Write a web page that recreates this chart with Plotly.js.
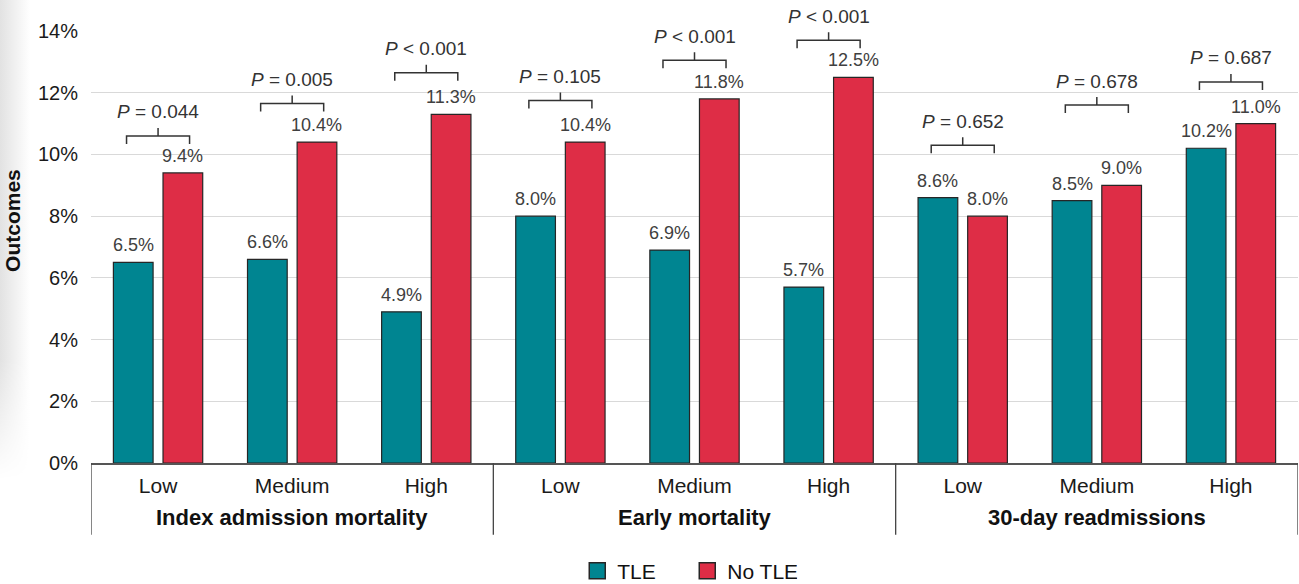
<!DOCTYPE html>
<html>
<head>
<meta charset="utf-8">
<script src="https://cdn.plot.ly/plotly-3.0.1.min.js"></script>
<style>
  html, body { margin: 0; padding: 0; background: #fff; }
  body { width: 1299px; height: 584px; overflow: hidden; position: relative; }
  #edge {
    position: absolute; left: 0; top: 0; width: 30px; height: 480px;
    background: linear-gradient(to right, #e2e2e2, #ffffff);
    -webkit-mask-image: linear-gradient(to bottom, #000 75%, transparent);
    mask-image: linear-gradient(to bottom, #000 75%, transparent);
  }
  #chart { position: absolute; left: 0; top: 0; width: 1299px; height: 584px; }
</style>
</head>
<body>
<div id="edge"></div>
<div id="chart"></div>
<script>
// Outcome groups and risk levels
const panels = ['Index admission mortality', 'Early mortality', '30-day readmissions'];
const levels = ['Low', 'Medium', 'High'];

// Outcome rates (%) per panel x level
const tleRates   = [6.5, 6.6, 4.9,   8.0, 6.9, 5.7,   8.6, 8.5, 10.2];
const noTleRates = [9.4, 10.4, 11.3, 10.4, 11.8, 12.5, 8.0, 9.0, 11.0];

// Significance of TLE vs no TLE within each level
const pTexts = ['= 0.044', '= 0.005', '< 0.001',
                '= 0.105', '< 0.001', '< 0.001',
                '= 0.652', '= 0.678', '= 0.687'];

// Y axis ticks (%)
const yTicks = [0, 2, 4, 6, 8, 10, 12, 14];

// ---- layout helpers ----
const FONT = 'Liberation Sans, Arial, Helvetica, sans-serif';
const W = 1299, H = 584;
const M = { l: 91, r: 1, t: 31, b: 121 };
const BARGAP = 0.26, GROUPGAP = 0.2;

const nPerPanel = levels.length;
const xIdx = tleRates.map((_, i) => i);
const tickText = xIdx.map(i => levels[i % nPerPanel]);

// pixel offset of each series' bar centre from its category centre
const catPx = (W - M.l - M.r) / xIdx.length;
const slotPx = (1 - BARGAP) * catPx / 2;
const seriesShift = [-slotPx / 2, slotPx / 2];

// height (in % units) of each significance bracket
const bracketLevels = [10.6, 11.65, 12.65, 11.75, 13.05, 13.7, 10.3, 11.6, 12.35];
const bracketHalf = 0.235;  // half width, category units
const bracketTick = 0.26;   // tick length, % units

const TEAL = '#008591', RED = '#DE2D46', EDGE = '#262626';
const fmt = v => v.toFixed(1) + '%';

const series = [
  { name: 'TLE', values: tleRates, color: TEAL },
  { name: 'No TLE', values: noTleRates, color: RED }
];

const traces = [];
series.forEach(s => {
  traces.push({
    type: 'bar', name: s.name, x: xIdx, y: s.values,
    marker: { color: s.color, line: { color: EDGE, width: 1.2 } },
    showlegend: false, hoverinfo: 'name+y'
  });
});
// legend entries with larger square keys
series.forEach(s => {
  traces.push({
    type: 'scatter', mode: 'markers', name: s.name,
    x: [null], y: [null],
    marker: { symbol: 'square', size: 18, color: s.color, line: { color: EDGE, width: 1.5 } },
    showlegend: true, hoverinfo: 'skip'
  });
});

const shapes = [];
const annotations = [];

// value labels above each bar
series.forEach((s, k) => {
  s.values.forEach((v, i) => {
    annotations.push({
      xref: 'x', yref: 'y', x: i, y: v,
      xshift: seriesShift[k], yshift: 17,
      xanchor: 'center', yanchor: 'middle',
      text: fmt(v), showarrow: false,
      font: { family: FONT, size: 18, color: '#404040' }
    });
  });
});

// panel dividers below the axis
for (let p = 0; p <= panels.length; p++) {
  shapes.push({
    type: 'line', xref: 'x', yref: 'paper',
    x0: p * nPerPanel - 0.5, x1: p * nPerPanel - 0.5,
    y0: 0, y1: -0.166,
    line: { color: '#444', width: 1.3 }
  });
}

// panel names
panels.forEach((name, p) => {
  annotations.push({
    xref: 'x', yref: 'paper',
    x: p * nPerPanel + (nPerPanel - 1) / 2, y: -0.127,
    text: '<b>' + name + '</b>', showarrow: false,
    xanchor: 'center', yanchor: 'middle',
    font: { family: FONT, size: 22, color: '#111' }
  });
});

// brackets and p-values
xIdx.forEach(i => {
  const lv = bracketLevels[i];
  const a = i - bracketHalf, b = i + bracketHalf;
  shapes.push({
    type: 'path', xref: 'x', yref: 'y',
    path: `M ${a},${lv - bracketTick} L ${a},${lv} L ${b},${lv} L ${b},${lv - bracketTick} ` +
          `M ${i},${lv} L ${i},${lv + bracketTick}`,
    line: { color: '#333', width: 1.5 }
  });
  annotations.push({
    xref: 'x', yref: 'y', x: i, y: lv,
    yshift: 24, xanchor: 'center', yanchor: 'middle',
    text: '<i>P</i> ' + pTexts[i], showarrow: false,
    font: { family: FONT, size: 19, color: '#333' }
  });
});

// y axis title
annotations.push({
  xref: 'paper', yref: 'paper', x: -0.0655, y: 0.5625,
  text: '<b>Outcomes</b>', textangle: -90, showarrow: false,
  xanchor: 'center', yanchor: 'middle',
  font: { family: FONT, size: 21, color: '#111' }
});

const layout = {
  width: W, height: H,
  margin: M,
  paper_bgcolor: 'rgba(0,0,0,0)',
  plot_bgcolor: 'rgba(0,0,0,0)',
  font: { family: FONT, color: '#222' },
  barmode: 'group',
  bargap: BARGAP,
  bargroupgap: GROUPGAP,
  xaxis: {
    range: [-0.5, xIdx.length - 0.5],
    tickvals: xIdx, ticktext: tickText,
    tickfont: { family: FONT, size: 21, color: '#1a1a1a' },
    ticks: '', ticklabelstandoff: 3,
    showgrid: false, zeroline: false,
    showline: true, linecolor: '#555', linewidth: 1.5,
    automargin: false, fixedrange: true
  },
  yaxis: {
    range: [0, 14],
    tickvals: yTicks, ticktext: yTicks.map(v => v + '%'),
    tickfont: { family: FONT, size: 20, color: '#1a1a1a' },
    ticks: '', ticklabelstandoff: 12,
    showgrid: true, gridcolor: '#d9d9d9', gridwidth: 1,
    zeroline: false, showline: false,
    automargin: false, fixedrange: true
  },
  showlegend: true,
  legend: {
    orientation: 'h',
    xref: 'paper', x: 0.494, xanchor: 'center',
    yref: 'container', y: 1 - 571 / H, yanchor: 'middle',
    entrywidth: 65, entrywidthmode: 'pixels',
    font: { family: FONT, size: 21, color: '#111' },
    itemclick: false, itemdoubleclick: false
  },
  shapes: shapes,
  annotations: annotations
};

Plotly.newPlot('chart', traces, layout, { displayModeBar: false, staticPlot: true });
</script>
</body>
</html>
